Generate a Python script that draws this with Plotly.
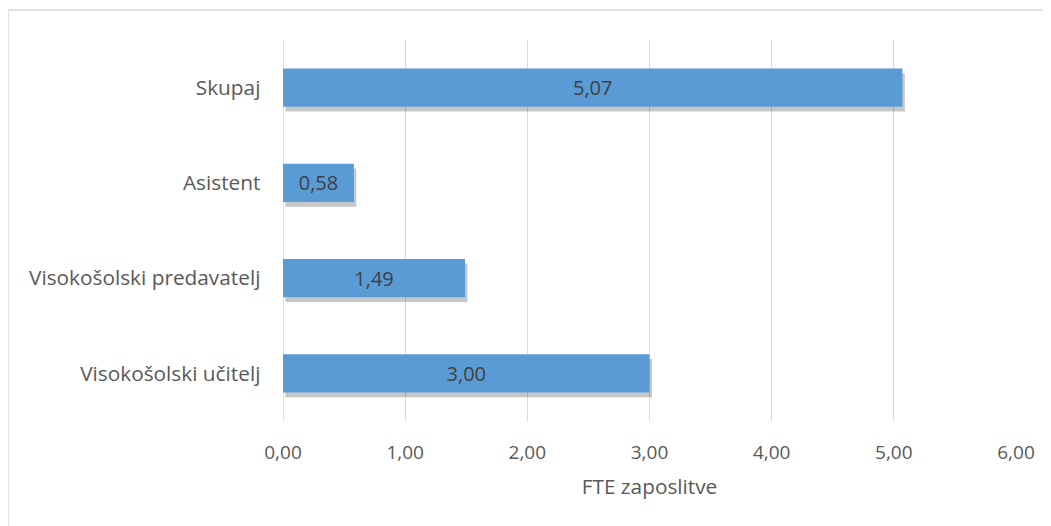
import plotly.graph_objects as go

categories = ["Visokošolski učitelj", "Visokošolski predavatelj", "Asistent", "Skupaj"]
values = [3.00, 1.49, 0.58, 5.07]
labels = ["3,00", "1,49", "0,58", "5,07"]
tick_vals = [0, 1, 2, 3, 4, 5, 6]
tick_text = ["0,00", "1,00", "2,00", "3,00", "4,00", "5,00", "6,00"]
x_title = "FTE zaposlitve"

FONT = "Open Sans"
# page body has an 8px margin, so the figure is sized to fit the window
W, H = 1043, 518
L, R, T, B = 275, 35, 32, 105
FS_TICK = 19
FS_LABEL = 20
FS_CAT = 20.8
FS_TITLE = 20.8

bar_w = 0.4
sh_dx = 0.02    # shadow shift (x units)
sh_dy = 0.05    # shadow shift (category units)

fig = go.Figure()
# drop shadow
fig.add_trace(go.Bar(
    y=categories, x=values, base=sh_dx, orientation="h",
    width=bar_w, offset=-bar_w / 2 - sh_dy,
    marker=dict(color="rgba(0,0,0,0.22)", line=dict(width=0)),
    hoverinfo="skip", showlegend=False,
))
fig.add_trace(go.Bar(
    y=categories, x=values, orientation="h",
    width=bar_w, offset=-bar_w / 2,
    marker=dict(color="#5B9BD5", line=dict(width=0)),
    text=labels, textposition="inside", insidetextanchor="middle",
    textfont=dict(family=FONT, size=FS_LABEL, color="#404040"),
    showlegend=False,
))

fig.update_layout(
    width=W, height=H,
    margin=dict(l=L, r=R, t=T, b=B, autoexpand=False),
    paper_bgcolor="white", plot_bgcolor="white",
    barmode="overlay",
    font=dict(family=FONT, size=FS_TICK, color="#595959"),
    xaxis=dict(
        range=[0, 6], tickvals=tick_vals, ticktext=tick_text,
        showgrid=True, gridcolor="#d9d9d9", gridwidth=1.3,
        zeroline=False, showline=False, ticks="",
        ticklabelstandoff=18,
        tickfont=dict(size=FS_TICK, color="#595959"),
        title=dict(text=x_title, font=dict(size=FS_TITLE, color="#595959"), standoff=15),
    ),
    yaxis=dict(
        categoryorder="array", categoryarray=categories,
        range=[-0.5, 3.5], showgrid=False, zeroline=False, showline=False,
        ticks="", ticksuffix="    ", tickfont=dict(size=FS_CAT, color="#595959"),
    ),
    shapes=[dict(
        type="rect", xref="paper", yref="paper",
        x0=(0 - L) / (W - L - R), x1=1.1,
        y0=-0.5, y1=(H - B - 2) / (H - T - B),
        line=dict(color="#d9d9d9", width=1.5), layer="below",
    ), dict(
        type="line", xref="x", yref="paper", x0=0, x1=0, y0=0, y1=1,
        line=dict(color="#d9d9d9", width=1.5), layer="below",
    )],
)

fig.write_html("out.html")
